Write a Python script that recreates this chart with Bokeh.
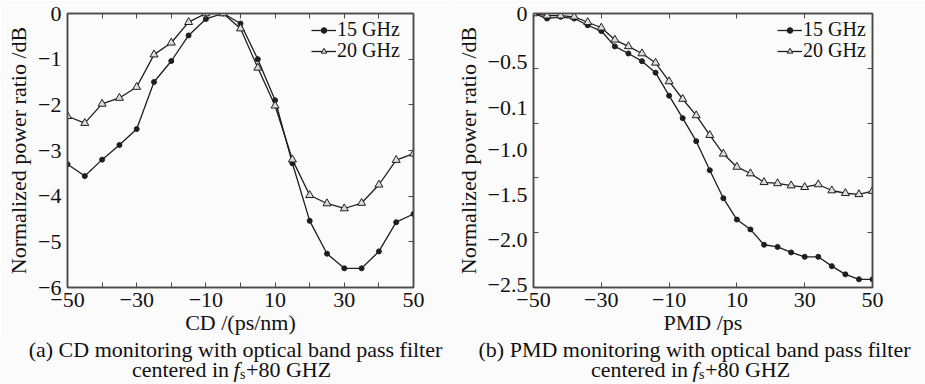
from bokeh.plotting import figure
from bokeh.models import FixedTicker, Legend, LegendItem, LinearAxis
from bokeh.core.properties import value
from bokeh.layouts import row, column
from bokeh.embed import file_html
from bokeh.resources import INLINE

# ---------------- data ----------------
cd_x = [-50, -45, -40, -35, -30, -25, -20, -15, -10, -5, 0, 5, 10, 15, 20, 25, 30, 35, 40, 45, 50]
cd_15ghz = [-3.30, -3.56, -3.20, -2.88, -2.53, -1.50, -1.04, -0.48, -0.12, 0.0, -0.22, -1.00,
            -1.90, -3.28, -4.54, -5.26, -5.58, -5.58, -5.21, -4.57, -4.39]
cd_20ghz = [-2.25, -2.40, -1.98, -1.85, -1.61, -0.90, -0.64, -0.19, 0.0, 0.0, -0.33, -1.19,
            -2.02, -3.20, -3.98, -4.16, -4.27, -4.15, -3.75, -3.21, -3.07]

pmd_x = [-50, -46, -42, -38, -34, -30, -26, -22, -18, -14, -10, -6, -2, 2, 6, 10, 14, 18,
         22, 26, 30, 34, 38, 42, 46, 50]
pmd_15ghz = [0.0, -0.046, -0.03, -0.046, -0.107, -0.16, -0.30, -0.365, -0.435, -0.54, -0.75,
             -0.955, -1.165, -1.43, -1.685, -1.88, -1.97, -2.11, -2.13, -2.18, -2.22, -2.22,
             -2.305, -2.38, -2.425, -2.425]
pmd_20ghz = [0.0, -0.02, -0.02, -0.03, -0.08, -0.13, -0.24, -0.30, -0.365, -0.45, -0.62,
             -0.78, -0.93, -1.11, -1.28, -1.40, -1.46, -1.54, -1.55, -1.57, -1.585, -1.56,
             -1.615, -1.64, -1.65, -1.62]

series_labels = ["15 GHz", "20 GHz"]

# tick values / labels
cd_xticks = [-50, -30, -10, 10, 30, 50]
cd_xtick_labels = ["\u221250", "\u221230", "\u221210", "10", "30", "50"]
cd_xminor = [-50, -40, -30, -20, -10, 0, 10, 20, 30, 40, 50]
cd_yticks = [0, -1, -2, -3, -4, -5, -6]
cd_ytick_labels = ["0", "\u22121", "\u22122", "\u22123", "\u22124", "\u22125", "\u22126"]
cd_yminor = [-1, -2, -3, -4, -5]

pmd_xticks = [-50, -30, -10, 10, 30, 50]
pmd_xtick_labels = ["\u221250", "\u221230", "\u221210", "10", "30", "50"]
pmd_xminor = [-30, -10, 10, 30]
pmd_ytick_pos = [0.0, -0.444, -0.864, -1.247, -1.658, -2.068, -2.479]
pmd_ytick_labels = ["0", "\u22120.5", "\u22120.1", "\u22121.0", "\u22121.5", "\u22122.0", "\u22122.5"]
pmd_yminor = [0.0, -0.5, -1.0, -1.5, -2.0, -2.5]
pmd_yright = [-0.5, -1.0, -1.5, -2.0]

y_title = "Normalized power ratio /dB"
cd_xtitle = "CD /(ps/nm)"
pmd_xtitle = "PMD /ps"
captions_line1 = ["(a) CD monitoring with optical band pass filter",
                  "(b) PMD monitoring with optical band pass filter"]
caption_line2 = ["centered in", "f", "s", "+80 GHZ"]

# ---------------- style ----------------
FONT = "Liberation Serif"
FS = "22px"
LEG_FS = "20px"
BG = "#fbfbfb"
AX = "#4a4a4a"
TXT = "#111111"
LINE = "#1e1e1e"
FRAME_W = 346
FRAME_H = 274
TOP = 13
PLOT_H = 338
CAP_H = 384 - PLOT_H


def style_axis(ax):
    ax.axis_line_color = AX
    ax.axis_line_width = 1.5
    ax.major_tick_line_color = AX
    ax.minor_tick_line_color = AX
    ax.major_tick_line_width = 1
    ax.minor_tick_line_width = 1
    ax.major_tick_in = 0
    ax.major_tick_out = 0
    ax.minor_tick_in = 5
    ax.minor_tick_out = 0
    ax.major_label_text_font = FONT
    ax.major_label_text_font_size = FS
    ax.major_label_text_color = TXT
    ax.axis_label_text_font = FONT
    ax.axis_label_text_font_size = FS
    ax.axis_label_text_font_style = "normal"
    ax.axis_label_text_color = TXT


def legend_box(item, vx, vy):
    return Legend(items=[item], location=(vx, vy), background_fill_alpha=0,
                  border_line_color=None, label_text_font=FONT,
                  label_text_font_size=LEG_FS, label_text_color=TXT,
                  label_width=68, glyph_width=25, glyph_height=14, label_standoff=1,
                  spacing=0, padding=2, margin=0)


def build(x, s15, s20, xr, yr, xticks, xlabels, xminor, yticks, ylabels, yminor, yright,
          xtitle, width, border_left):
    border_right = width - border_left - FRAME_W
    p = figure(width=width, height=PLOT_H, x_range=xr, y_range=yr,
               output_backend="svg", toolbar_location=None,
               min_border_left=border_left, min_border_right=border_right,
               min_border_top=TOP, min_border_bottom=PLOT_H - TOP - FRAME_H)
    p.background_fill_color = BG
    p.border_fill_color = BG
    p.outline_line_color = AX
    p.outline_line_width = 1.5
    p.xgrid.visible = False
    p.ygrid.visible = False

    xa = p.xaxis[0]
    style_axis(xa)
    xa.ticker = FixedTicker(ticks=xticks, minor_ticks=xminor)
    xa.major_label_overrides = dict(zip(xticks, xlabels))
    xa.major_label_standoff = 5
    xa.axis_label = xtitle
    xa.axis_label_standoff = 0

    ya = p.yaxis[0]
    style_axis(ya)
    ya.ticker = FixedTicker(ticks=yticks, minor_ticks=yminor)
    ya.major_label_overrides = dict(zip(yticks, ylabels))
    ya.major_label_standoff = 6
    ya.axis_label = y_title
    ya.axis_label_standoff = 4

    top = LinearAxis(ticker=FixedTicker(ticks=[], minor_ticks=xminor))
    style_axis(top)
    p.add_layout(top, "above")
    right = LinearAxis(ticker=FixedTicker(ticks=[], minor_ticks=yright))
    style_axis(right)
    p.add_layout(right, "right")

    l1 = p.line(x, s15, line_color=LINE, line_width=1.3)
    m1 = p.scatter(x, s15, marker="circle", size=5, fill_color=LINE, line_color=LINE)
    l2 = p.line(x, s20, line_color=LINE, line_width=1.3)
    m2 = p.scatter(x, s20, marker="triangle", size=8, fill_color="#dcdcdc",
                   line_color=LINE, line_width=1)

    p.add_layout(legend_box(LegendItem(label=series_labels[0], renderers=[l1, m1]), 244, 246))
    p.add_layout(legend_box(LegendItem(label=series_labels[1], renderers=[l2, m2]), 244, 225))
    return p


p1 = build(cd_x, cd_15ghz, cd_20ghz, (-50, 50), (-6, 0), cd_xticks, cd_xtick_labels,
           cd_xminor, cd_yticks, cd_ytick_labels, [], cd_yminor, cd_xtitle, 452, 67)
p2 = build(pmd_x, pmd_15ghz, pmd_20ghz, (-50, 50), (-2.5, 0), pmd_xticks, pmd_xtick_labels,
           pmd_xminor, pmd_ytick_pos, pmd_ytick_labels, pmd_yminor, pmd_yright, pmd_xtitle,
           473, 74)

# ---------------- caption strip (pixel coordinates) ----------------
cap = figure(width=925, height=CAP_H, x_range=(0, 925), y_range=(CAP_H, 0),
             output_backend="svg", toolbar_location=None,
             x_axis_location=None, y_axis_location=None,
             min_border=0, min_border_left=0, min_border_right=0,
             min_border_top=0, min_border_bottom=0)
cap.background_fill_color = BG
cap.border_fill_color = BG
cap.outline_line_color = None
cap.xgrid.visible = False
cap.ygrid.visible = False

frame_lefts = [67, 452 + 74]
common = dict(text_baseline="alphabetic", text_font=value(FONT), text_color=TXT)
for fl, line1 in zip(frame_lefts, captions_line1):
    cap.text(x=[fl + 168], y=[11], text=[line1], text_align="center",
             text_font_size=FS, **common)
    cap.text(x=[fl + 161.5], y=[31], text=[caption_line2[0]], text_align="right",
             text_font_size=FS, **common)
    cap.text(x=[fl + 166], y=[31], text=[caption_line2[1]], text_align="left",
             text_font_size=FS, text_font_style="italic", **common)
    cap.text(x=[fl + 172.5], y=[36], text=[caption_line2[2]], text_align="left",
             text_font_size="14px", **common)
    cap.text(x=[fl + 178.5], y=[31], text=[caption_line2[3]], text_align="left",
             text_font_size=FS, **common)

layout = column(row(p1, p2), cap)

open("out.html", "w").write(file_html(layout, INLINE))
